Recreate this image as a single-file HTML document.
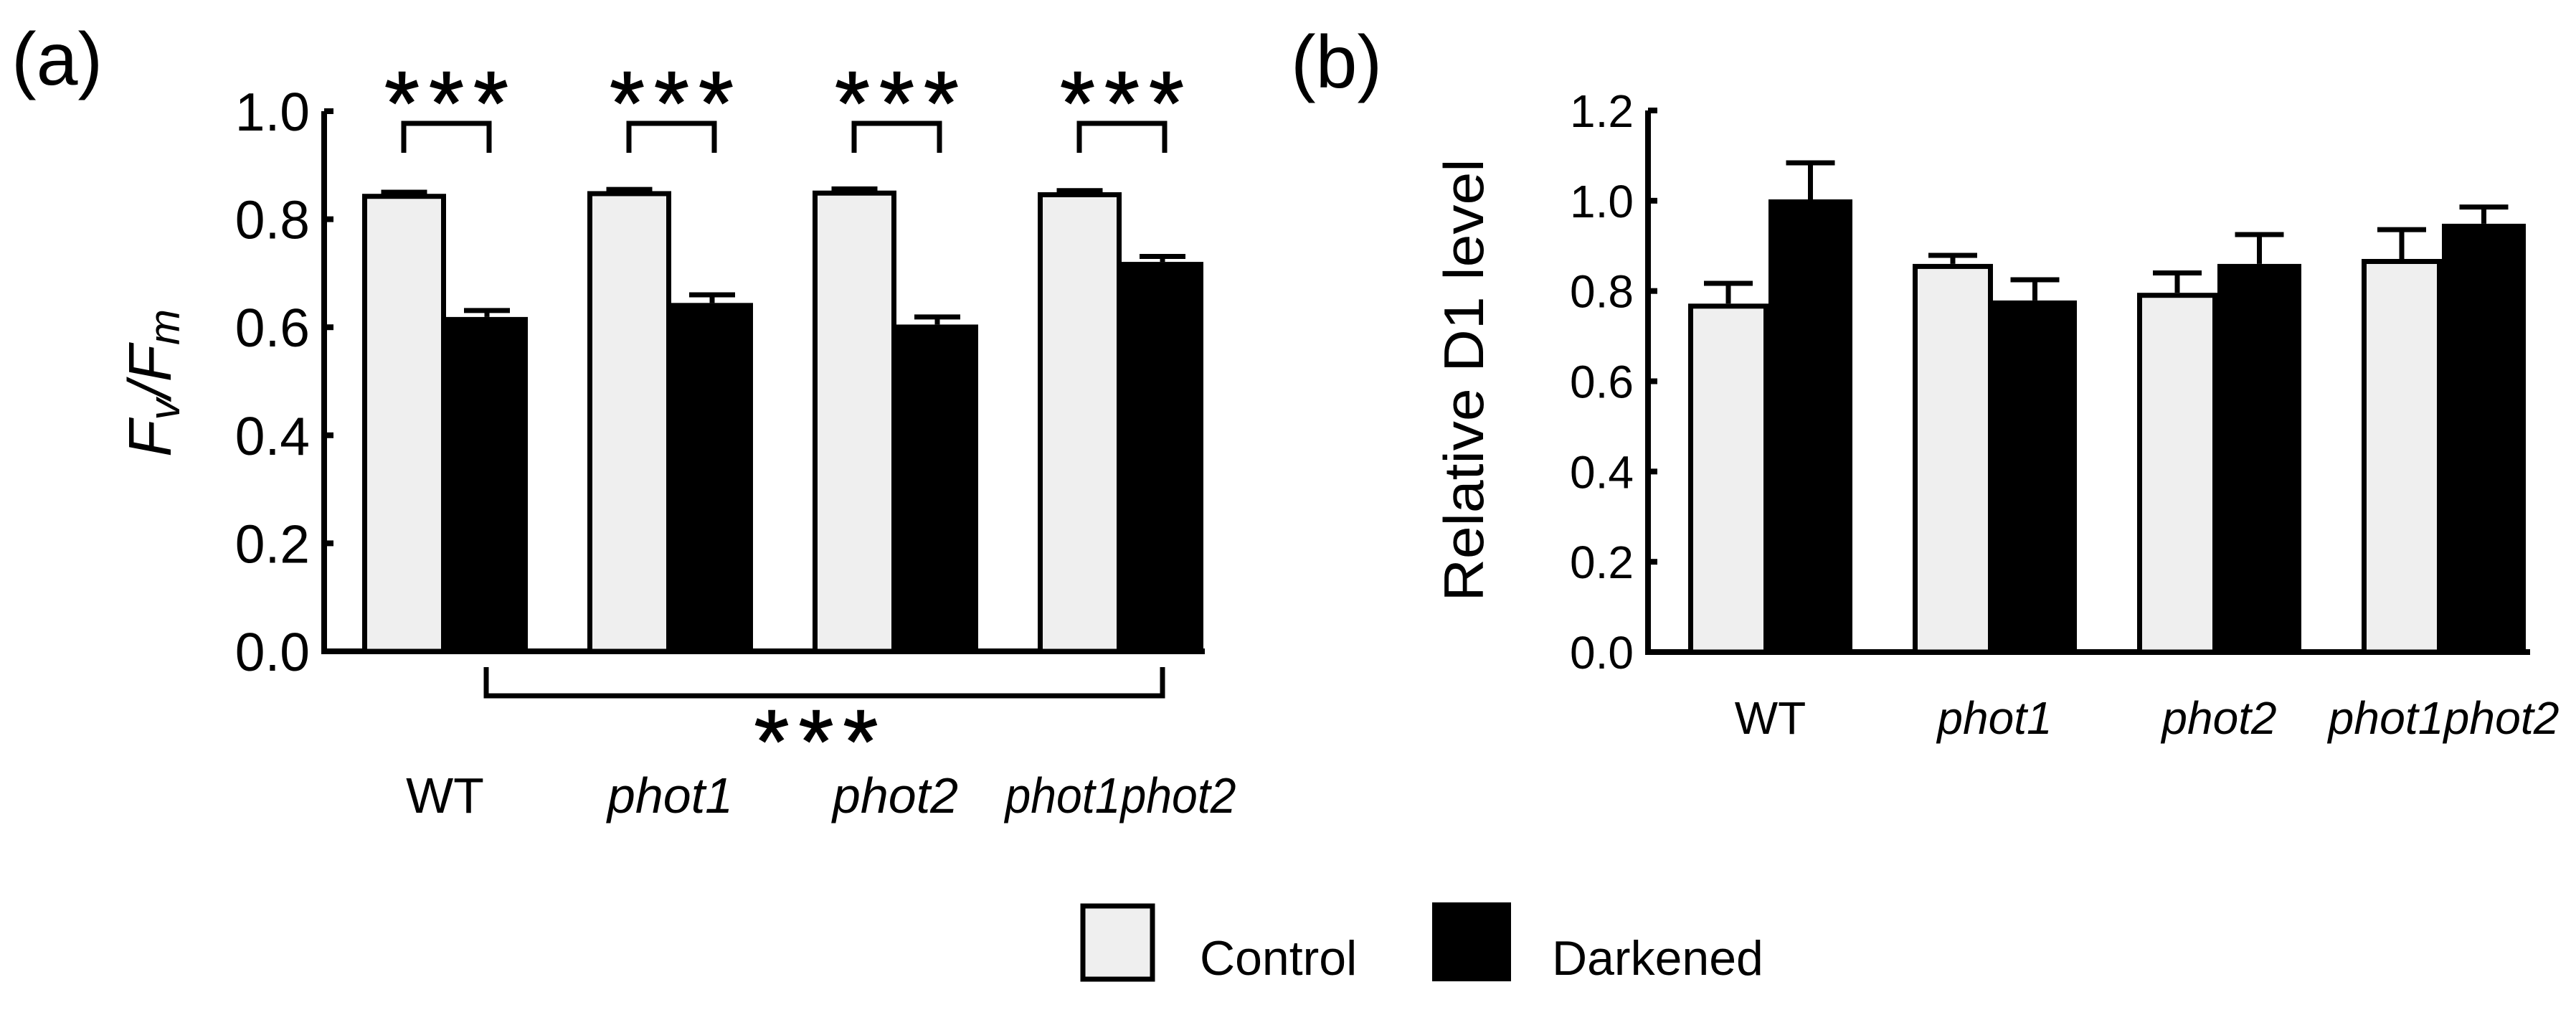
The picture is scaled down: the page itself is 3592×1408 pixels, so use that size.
<!DOCTYPE html>
<html><head><meta charset="utf-8"><style>
html,body{margin:0;padding:0;background:#fff;}
svg{display:block;font-family:"Liberation Sans",Arial,sans-serif;}
</style></head><body>
<svg id="fig" width="3592" height="1408" viewBox="0 0 3592 1408" xmlns="http://www.w3.org/2000/svg">
<text x="16" y="118" font-size="104">(a)</text>
<text x="1800" y="122" font-size="104">(b)</text>
<g id="pa"></g>
<g id="pb"></g>
<g>
<g>
<rect x="1510" y="1263" width="97" height="102" fill="#efefef" stroke="#000" stroke-width="7"/>
<text x="1673" y="1359" font-size="68">Control</text></g>
<g>
<rect x="1997" y="1258" width="110" height="110" fill="#000"/>
<text x="2164" y="1359" font-size="68">Darkened</text></g>
</g>
</svg>
<script>
const categories = ["WT","phot1","phot2","phot1phot2"];
const fvfmControl = [0.847,0.852,0.853,0.850];
const fvfmControlErr = [0.003,0.003,0.003,0.003];
const fvfmDark = [0.619,0.645,0.605,0.721];
const fvfmDarkErr = [0.012,0.015,0.014,0.010];
const fvfmTicks = [0.0,0.2,0.4,0.6,0.8,1.0];
const d1Control = [0.772,0.860,0.796,0.871];
const d1ControlErr = [0.045,0.019,0.044,0.065];
const d1Dark = [1.003,0.779,0.860,0.949];
const d1DarkErr = [0.081,0.046,0.065,0.037];
const d1Ticks = [0.0,0.2,0.4,0.6,0.8,1.0,1.2];

const NS="http://www.w3.org/2000/svg";
function mk(parent,tag,attrs){const e=document.createElementNS(NS,tag);for(const k in attrs)e.setAttribute(k,attrs[k]);parent.appendChild(e);return e;}

function drawPanel(g,cfg){
  const y=v=>cfg.y0-(v/cfg.ymax)*(cfg.y0-cfg.ytop);
  let ax=mk(g,'path',{d:`M${cfg.ax} ${y(cfg.ymax)} V${cfg.y0} H${cfg.axEnd}`,fill:'none',stroke:'#000','stroke-width':8});
  
  
  cfg.ticks.forEach(t=>{
    let tk=mk(g,'line',{x1:cfg.ax,x2:cfg.ax+13,y1:y(t),y2:y(t),stroke:'#000','stroke-width':8});
    
    
    let tl=mk(g,'text',{x:cfg.ax-20,y:y(t)+cfg.tfs*0.36,'font-size':cfg.tfs,'text-anchor':'end'});
    tl.textContent=t.toFixed(1);
    
    
  });
  categories.forEach((c,i)=>{
    const xc=cfg.x0+i*cfg.gap;
    const cv=cfg.ctrl[i], dv=cfg.dark[i];
    let ec=mk(g,'path',{d:`M${xc+cfg.cw/2} ${y(cv)} V${y(cv+cfg.ctrlErr[i])} M${xc+cfg.cw/2-cfg.capw/2} ${y(cv+cfg.ctrlErr[i])} H${xc+cfg.cw/2+cfg.capw/2}`,stroke:'#000','stroke-width':7,fill:'none'});
    
    
    let rc=mk(g,'rect',{x:xc+3.5,y:y(cv)+3.5,width:cfg.cw-7,height:cfg.y0-y(cv)-3.5,fill:'#efefef',stroke:'#000','stroke-width':7});
    
    
    const xd=xc+cfg.cw;
    let ed=mk(g,'path',{d:`M${xd+cfg.dw/2} ${y(dv)} V${y(dv+cfg.darkErr[i])} M${xd+cfg.dw/2-cfg.capw/2} ${y(dv+cfg.darkErr[i])} H${xd+cfg.dw/2+cfg.capw/2}`,stroke:'#000','stroke-width':7,fill:'none'});
    
    
    let rd=mk(g,'rect',{x:xd,y:y(dv),width:cfg.dw,height:cfg.y0-y(dv),fill:'#000'});
    
    
    const lx=xc+(cfg.cw+cfg.dw)/2;
    let lab=mk(g,'text',{x:lx,y:cfg.labY,'font-size':cfg.lfs,'text-anchor':'middle','font-style':i==0?'normal':'italic'});
    if(i==3){lab.setAttribute('textLength',cfg.ppLen);lab.setAttribute('lengthAdjust','spacingAndGlyphs');}
    lab.textContent=c;
    
    
    if(cfg.stars){
      let br=mk(g,'path',{d:`M${xc+58} 213 V172 H${xd+60} V213`,fill:'none',stroke:'#000','stroke-width':7});
      
      
      [-62,0,62].forEach(o=>{
        let s=mk(g,'text',{x:(xc+58+xd+60)/2+o,y:187,'font-size':125,'text-anchor':'middle',stroke:'#000','stroke-width':1.5});
        s.textContent='*';
        
        
      });
    }
  });
}

drawPanel(document.getElementById('pa'),{ax:452,axEnd:1680,y0:908,ytop:155,ymax:1.0,ticks:fvfmTicks,tfs:75,
  x0:505,gap:314,cw:117,dw:114,capw:64,ctrl:fvfmControl,ctrlErr:fvfmControlErr,dark:fvfmDark,darkErr:fvfmDarkErr,
  labY:1133,lfs:70,ppLen:322,stars:true});
drawPanel(document.getElementById('pb'),{ax:2298,axEnd:3528,y0:909,ytop:154,ymax:1.2,ticks:d1Ticks,tfs:64,
  x0:2354,gap:313,cw:112,dw:117,capw:68,ctrl:d1Control,ctrlErr:d1ControlErr,dark:d1Dark,darkErr:d1DarkErr,
  labY:1023,lfs:64,ppLen:322,stars:false});

const pa=document.getElementById('pa');
let bb=mk(pa,'path',{d:'M678 930 V970 H1621 V930',fill:'none',stroke:'#000','stroke-width':7});


[-62,0,62].forEach(o=>{
  let s=mk(pa,'text',{x:1138+o,y:1077,'font-size':125,'text-anchor':'middle',stroke:'#000','stroke-width':1.5});
  s.textContent='*';
  
  
});
let yl=mk(pa,'text',{transform:'translate(238,534) rotate(-90)','font-size':84,'font-style':'italic','text-anchor':'middle'});
yl.innerHTML='F<tspan font-size="60" dy="12">v</tspan><tspan dy="-12">/F</tspan><tspan font-size="60" dy="12">m</tspan>';


const pb=document.getElementById('pb');
let yl2=mk(pb,'text',{transform:'translate(2068,530) rotate(-90)','font-size':78,'text-anchor':'middle',textLength:617,lengthAdjust:'spacingAndGlyphs'});
yl2.textContent='Relative  D1  level';


</script>
</body></html>
